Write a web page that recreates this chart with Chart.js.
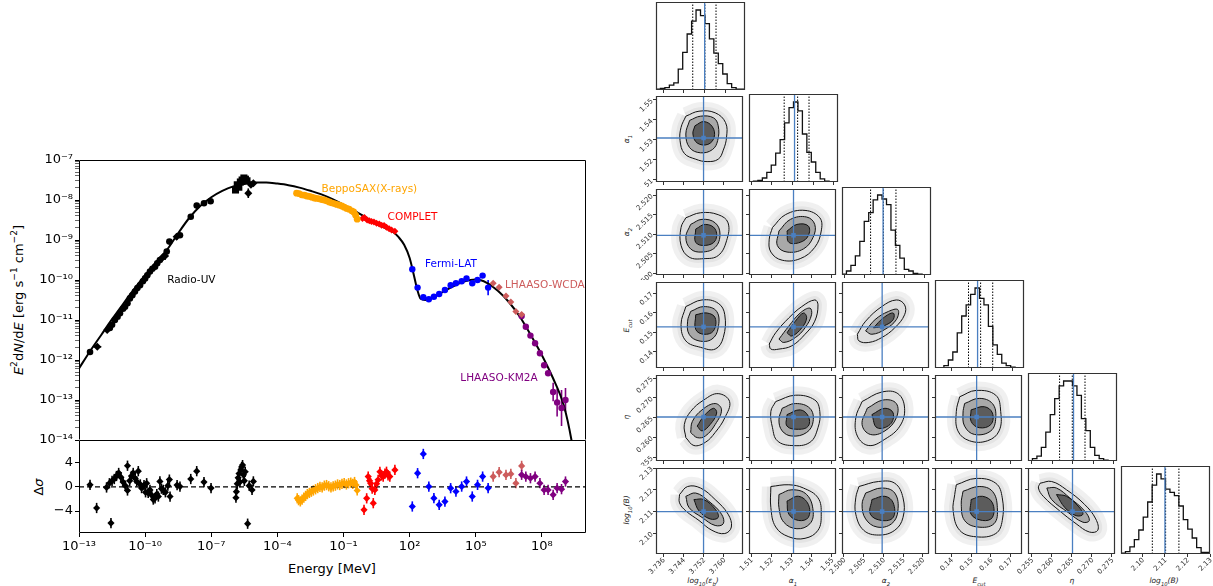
<!DOCTYPE html>
<html>
<head>
<meta charset="utf-8">
<title>SED fit and posterior</title>
<script src="https://cdn.jsdelivr.net/npm/chart.js@4.4.1/dist/chart.umd.min.js"></script>
<style>
  html, body { margin: 0; padding: 0; background: #fff; }
  body { position: relative; width: 1213px; height: 586px; overflow: hidden; font-family: "DejaVu Sans", sans-serif; }
  canvas { position: absolute; }
  .t { position: absolute; white-space: nowrap; color: #000; line-height: 1; }
  .rot { transform: translate(-50%, -50%) rotate(-90deg); }
  .ctr { transform: translate(-50%, -50%); }
  .cl { font-size: 7.5px; font-style: italic; color: #222; }
  sub, sup { font-size: 70%; line-height: 0; }
</style>
</head>
<body>
<div class="t rot" style="left:18px;top:300px;font-size:13px"><i>E</i><sup>2</sup>d<i>N</i>/d<i>E</i> [erg s<sup>−1</sup> cm<sup>−2</sup>]</div>
<div class="t rot" style="left:38px;top:487px;font-size:13px">Δ<i>σ</i></div>
<div class="t ctr" style="left:332px;top:568px;font-size:13px">Energy [MeV]</div>

<div class="t ctr cl" style="left:703px;top:581px">log<sub>10</sub>(ε<sub>b</sub>)</div>
<div class="t ctr cl" style="left:793px;top:581px">α<sub>1</sub></div>
<div class="t ctr cl" style="left:886px;top:581px">α<sub>2</sub></div>
<div class="t ctr cl" style="left:979px;top:581px">E<sub>cut</sub></div>
<div class="t ctr cl" style="left:1072px;top:581px">η</div>
<div class="t ctr cl" style="left:1164px;top:581px">log<sub>10</sub>(B)</div>
<div class="t rot cl" style="left:627px;top:139px">α<sub>1</sub></div>
<div class="t rot cl" style="left:627px;top:232px">α<sub>2</sub></div>
<div class="t rot cl" style="left:627px;top:326px">E<sub>cut</sub></div>
<div class="t rot cl" style="left:627px;top:417px">η</div>
<div class="t rot cl" style="left:627px;top:510px">log<sub>10</sub>(B)</div>

<script>
// ---- SED: log10 energy [MeV] and log10 E^2 dN/dE [erg s^-1 cm^-2] ----
const modelLogE = [-13.0, -12.5, -12.0, -11.5, -11.0, -10.5, -10.0, -9.5, -9.0, -8.5, -8.0, -7.5, -7.0, -6.5, -6.0, -5.5, -5.0, -4.5, -4.0, -3.5, -3.0, -2.5, -2.0, -1.5, -1.0, -0.5, 0.0, 0.5, 1.0, 1.25, 1.5, 1.75, 2.0, 2.2, 2.35, 2.5, 2.7, 3.0, 3.5, 4.0, 4.5, 5.0, 5.5, 6.0, 6.5, 7.0, 7.5, 8.0, 8.5, 9.0, 9.34, 9.45];
const modelLogF = [-12.21, -11.78, -11.38, -10.98, -10.6, -10.23, -9.88, -9.55, -9.24, -8.83, -8.45, -8.15, -7.93, -7.77, -7.66, -7.6, -7.56, -7.56, -7.59, -7.63, -7.69, -7.77, -7.86, -7.98, -8.12, -8.27, -8.43, -8.6, -8.73, -8.8, -8.93, -9.12, -9.45, -9.9, -10.25, -10.47, -10.5, -10.46, -10.3, -10.15, -10.03, -9.99, -10.07, -10.27, -10.55, -10.92, -11.38, -11.88, -12.45, -13.15, -14.0, -14.4];

const radioLogE = [-12.5, -12.17, -11.72, -11.6, -11.5, -11.37, -11.25, -11.14, -11.0, -10.91, -10.8, -10.69, -10.58, -10.46, -10.35, -10.23, -10.1, -10.0, -9.9, -9.78, -9.67, -9.55, -9.45, -9.33, -9.2, -9.1, -9.02, -8.9, -8.57, -8.42, -7.93, -7.66, -7.33, -7.03, -5.9, -5.82, -5.75, -5.68, -5.6, -5.52, -5.45, -5.38, -5.32, -5.2, -5.09];
const radioLogF = [-11.8, -11.67, -11.25, -11.2, -11.12, -11.0, -10.92, -10.83, -10.72, -10.67, -10.58, -10.46, -10.38, -10.29, -10.2, -10.13, -10.03, -9.96, -9.88, -9.79, -9.72, -9.67, -9.58, -9.5, -9.43, -9.4, -9.29, -9.04, -8.92, -8.88, -8.42, -8.14, -8.08, -8.03, -7.75, -7.62, -7.68, -7.55, -7.5, -7.45, -7.48, -7.52, -7.83, -7.62, -7.58];
const radioXErr = [0, 0.18, 0.12, 0, 0, 0, 0, 0, 0, 0, 0, 0, 0, 0, 0, 0, 0, 0, 0, 0, 0, 0, 0, 0, 0.12, 0.15, 0, 0, 0.12, 0, 0, 0, 0, 0, 0, 0, 0, 0, 0, 0, 0, 0, 0, 0, 0];
const radioYErr = [0, 0, 0, 0, 0, 0, 0, 0, 0, 0, 0, 0, 0, 0, 0, 0, 0, 0, 0, 0, 0, 0, 0, 0, 0.08, 0.1, 0, 0.06, 0.08, 0, 0, 0, 0, 0, 0.06, 0.05, 0.05, 0.05, 0.05, 0.05, 0.05, 0.05, 0.12, 0.05, 0];

const beppoLogE = [-3.13, -3.02, -2.9, -2.78, -2.67, -2.55, -2.44, -2.33, -2.22, -2.1, -1.99, -1.88, -1.77, -1.65, -1.54, -1.42, -1.31, -1.19, -1.08, -0.97, -0.86, -0.75, -0.63, -0.54, -0.45, -0.38];
const beppoLogF = [-7.83, -7.84, -7.87, -7.88, -7.9, -7.91, -7.93, -7.95, -7.96, -7.97, -7.99, -8.0, -8.02, -8.05, -8.07, -8.09, -8.11, -8.13, -8.15, -8.18, -8.21, -8.23, -8.27, -8.3, -8.38, -8.48];

const completLogE = [-0.14, -0.05, 0.07, 0.17, 0.27, 0.38, 0.5, 0.62, 0.73, 0.84, 0.95, 1.07, 1.18, 1.33];
const completLogF = [-8.46, -8.44, -8.5, -8.52, -8.54, -8.55, -8.58, -8.6, -8.63, -8.64, -8.68, -8.72, -8.75, -8.78];

const fermiLogE = [2.12, 2.36, 2.62, 2.87, 3.1, 3.34, 3.6, 3.86, 4.1, 4.36, 4.58, 4.84, 5.08, 5.31, 5.56];
const fermiLogF = [-9.73, -10.19, -10.43, -10.48, -10.42, -10.35, -10.25, -10.13, -10.08, -10.03, -9.96, -10.08, -10.0, -9.89, -10.19];
const fermiErr = [0.02, 0.02, 0.02, 0.02, 0.02, 0.02, 0.02, 0.02, 0.02, 0.03, 0.03, 0.04, 0.05, 0.06, 0.19];

const wcdaLogE = [5.79, 6.06, 6.37, 6.59, 6.82, 7.08];
const wcdaLogF = [-10.08, -10.18, -10.4, -10.55, -10.79, -10.86];

const km2aLogE = [7.08, 7.27, 7.48, 7.69, 7.91, 8.1, 8.28, 8.51, 8.69, 8.89, 9.07];
const km2aLogF = [-10.9, -11.17, -11.39, -11.58, -11.83, -12.13, -12.33, -12.8, -13.06, -13.2, -13.0];
const km2aErr = [0.03, 0.03, 0.03, 0.03, 0.04, 0.05, 0.06, 0.23, 0.35, 0.45, 0.3];

// residuals in units of sigma
const radioResE = [-12.5, -12.2, -11.55, -11.75, -11.62, -11.5, -11.4, -11.3, -11.2, -11.1, -11.0, -10.9, -10.8, -10.8, -10.7, -10.62, -10.54, -10.45, -10.38, -10.31, -10.22, -10.16, -10.05, -9.98, -9.93, -9.86, -9.78, -9.7, -9.63, -9.55, -9.47, -9.4, -9.33, -9.26, -9.18, -9.08, -8.97, -8.9, -8.87, -8.55, -8.42, -7.93, -7.66, -7.33, -7.01, -5.88, -5.86, -5.82, -5.78, -5.74, -5.7, -5.66, -5.62, -5.58, -5.54, -5.5, -5.46, -5.35, -5.28, -5.15, -5.09];
const radioRes = [0.33, -3.5, -6.0, -0.1, 0.6, 1.0, 1.3, 1.8, 2.3, 1.6, 0.8, 0.2, 3.5, -0.6, 1.0, 1.8, 2.3, 1.4, 0.9, 2.6, 0.4, -0.2, 0.3, -0.9, 0.6, -1.0, -0.5, -1.4, -2.1, -1.9, -1.2, -1.6, 0.9, -0.3, -0.5, -0.9, 0.2, 1.2, -1.6, 0.3, 0.05, 1.3, 2.6, 0.8, -0.2, -1.8, -0.8, 0.5, 1.5, 2.2, 0.8, 2.8, 3.3, 3.6, 2.0, 1.0, 2.5, -6.1, 0.2, -0.5, 0.9];
const beppoResE = [-3.1, -3.04, -2.96, -2.88, -2.8, -2.72, -2.64, -2.55, -2.46, -2.37, -2.27, -2.17, -2.07, -1.97, -1.87, -1.77, -1.67, -1.57, -1.47, -1.37, -1.27, -1.17, -1.07, -0.97, -0.87, -0.77, -0.67, -0.58, -0.5, -0.43, -0.38];
const beppoRes = [-1.9, -2.2, -2.4, -2.1, -1.8, -1.5, -1.2, -1.0, -0.8, -0.6, -0.4, -0.2, 0.0, -0.1, 0.2, 0.3, 0.1, -0.1, 0.1, 0.2, 0.4, 0.3, 0.5, 0.6, 0.4, 0.6, 0.7, 0.5, 0.8, 0.3, -0.6];
const completResE = [-0.07, 0.05, 0.12, 0.18, 0.23, 0.3, 0.35, 0.42, 0.5, 0.57, 0.65, 0.72, 0.8, 0.88, 0.95, 1.02, 1.1, 1.33];
const completRes = [-3.8, -1.9, 1.7, 1.0, 0.6, -0.3, -2.7, -0.5, 0.5, 1.16, 2.5, 1.9, 1.7, 2.2, 2.5, 1.9, 1.7, 2.8];
const fermiRes = [-3.25, 2.26, 5.45, 0.05, -1.87, -2.98, -2.43, -0.22, -0.77, 0.05, 0.88, -1.6, 0.33, 1.7, -0.2];
const wcdaRes = [1.7, 2.43, 1.98, 2.15, 0.6, 3.47];
const km2aRes = [2.0, 1.7, 1.43, 1.7, 0.6, -0.5, -0.5, -1.32, -0.22, -0.38, 0.88];

// ---- posterior: log10(eps_b), alpha1, alpha2, E_cut, eta, log10(B) ----
const ranges = [[3.7332, 3.7676], [1.509, 1.552], [2.4995, 2.5216], [0.1317, 0.1758], [0.2541, 0.2758], [2.0905, 2.1300]];
const truths = [3.752, 1.531, 2.5097, 0.1528, 0.2652, 2.1100];
const tickVals = [[3.736, 3.744, 3.752, 3.760], [1.51, 1.52, 1.53, 1.54, 1.55], [2.500, 2.505, 2.510, 2.515, 2.520], [0.14, 0.15, 0.16, 0.17], [0.255, 0.260, 0.265, 0.270, 0.275], [2.10, 2.11, 2.12, 2.13]];
const tickDigits = [3, 2, 3, 2, 3, 2];
const quantiles = [[3.7474, 3.7521, 3.7564], [1.526, 1.5325, 1.538], [2.5066, 2.5098, 2.5129], [0.1483, 0.1543, 0.1603], [0.2618, 0.2649, 0.2680], [2.1044, 2.1103, 2.1162]];

// 20-bin marginal histograms, relative counts
const hist0 = [0, 0.01, 0.02, 0.03, 0.06, 0.09, 0.26, 0.47, 0.7, 0.86, 1.0, 0.93, 0.83, 0.64, 0.46, 0.33, 0.2, 0.08, 0.03, 0.01];
const hist1 = [0, 0.005, 0.01, 0.02, 0.05, 0.12, 0.21, 0.36, 0.53, 0.74, 0.93, 1.0, 0.89, 0.6, 0.37, 0.25, 0.12, 0.04, 0.01, 0];
const hist2 = [0, 0.01, 0.05, 0.12, 0.24, 0.42, 0.67, 0.78, 0.94, 1.0, 0.95, 0.88, 0.56, 0.37, 0.21, 0.07, 0.05, 0.02, 0.01, 0];
const hist3 = [0, 0, 0.005, 0.03, 0.1, 0.2, 0.44, 0.65, 0.79, 0.92, 1.0, 0.87, 0.79, 0.52, 0.29, 0.17, 0.06, 0.03, 0.01, 0];
const hist4 = [0, 0.005, 0.03, 0.06, 0.17, 0.36, 0.58, 0.78, 0.94, 1.0, 1.0, 0.94, 0.82, 0.53, 0.38, 0.17, 0.07, 0.03, 0.01, 0];
const hist5 = [0, 0.01, 0.03, 0.09, 0.18, 0.3, 0.46, 0.65, 0.86, 1.0, 0.94, 0.81, 0.77, 0.73, 0.6, 0.43, 0.31, 0.2, 0.08, 0.02];
const hists = [hist0, hist1, hist2, hist3, hist4, hist5];

// contour outlines (outer, middle, inner), x,y pairs
const cont10 = [
  [3.7450, 1.5419, 3.7502, 1.5444, 3.7566, 1.5436, 3.7607, 1.5387, 3.7611, 1.5314, 3.7598, 1.5249, 3.7578, 1.5204, 3.7534, 1.5192, 3.7489, 1.5204, 3.7444, 1.5233, 3.7427, 1.5298, 3.7431, 1.5363],
  [3.7465, 1.5398, 3.7508, 1.5419, 3.7559, 1.5411, 3.7578, 1.5371, 3.7576, 1.5298, 3.7555, 1.5252, 3.7508, 1.5236, 3.7465, 1.5262, 3.7450, 1.5330],
  [3.7486, 1.5371, 3.7521, 1.5392, 3.7555, 1.5366, 3.7562, 1.5314, 3.7537, 1.5278, 3.7495, 1.5285, 3.7478, 1.5330]];
const cont20 = [
  [3.7450, 2.5142, 3.7508, 2.5155, 3.7578, 2.5150, 3.7617, 2.5129, 3.7611, 2.5083, 3.7578, 2.5045, 3.7521, 2.5037, 3.7463, 2.5041, 3.7431, 2.5071, 3.7431, 2.5117],
  [3.7469, 2.5125, 3.7514, 2.5138, 3.7566, 2.5129, 3.7585, 2.5100, 3.7566, 2.5066, 3.7514, 2.5054, 3.7469, 2.5062, 3.7450, 2.5092],
  [3.7489, 2.5113, 3.7527, 2.5125, 3.7566, 2.5113, 3.7566, 2.5083, 3.7527, 2.5071, 3.7489, 2.5079]];
const cont21 = [
  [1.5206, 2.5117, 1.5270, 2.5150, 1.5367, 2.5161, 1.5440, 2.5142, 1.5447, 2.5108, 1.5415, 2.5066, 1.5343, 2.5037, 1.5254, 2.5033, 1.5198, 2.5054, 1.5190, 2.5087],
  [1.5238, 2.5108, 1.5295, 2.5138, 1.5375, 2.5144, 1.5415, 2.5125, 1.5407, 2.5092, 1.5359, 2.5062, 1.5278, 2.5054, 1.5230, 2.5071],
  [1.5278, 2.5108, 1.5327, 2.5125, 1.5383, 2.5121, 1.5383, 2.5096, 1.5343, 2.5079, 1.5287, 2.5079]];
const cont30 = [
  [3.7450, 0.1632, 3.7514, 0.1666, 3.7578, 0.1649, 3.7604, 0.1590, 3.7598, 0.1473, 3.7566, 0.1414, 3.7508, 0.1423, 3.7450, 0.1456, 3.7431, 0.1540],
  [3.7469, 0.1607, 3.7521, 0.1632, 3.7572, 0.1607, 3.7578, 0.1523, 3.7553, 0.1465, 3.7502, 0.1456, 3.7463, 0.1490, 3.7457, 0.1557],
  [3.7489, 0.1590, 3.7534, 0.1599, 3.7566, 0.1574, 3.7559, 0.1507, 3.7521, 0.1490, 3.7489, 0.1515]];
const cont31 = [
  [1.5190, 0.1440, 1.5222, 0.1498, 1.5287, 0.1574, 1.5351, 0.1632, 1.5415, 0.1666, 1.5431, 0.1641, 1.5415, 0.1557, 1.5367, 0.1490, 1.5302, 0.1431, 1.5238, 0.1414, 1.5198, 0.1414],
  [1.5238, 0.1465, 1.5287, 0.1532, 1.5343, 0.1599, 1.5391, 0.1624, 1.5399, 0.1590, 1.5367, 0.1523, 1.5319, 0.1473, 1.5262, 0.1448],
  [1.5278, 0.1498, 1.5319, 0.1557, 1.5359, 0.1599, 1.5375, 0.1574, 1.5351, 0.1523, 1.5302, 0.1481]];
const cont32 = [
  [2.5034, 0.1490, 2.5055, 0.1557, 2.5096, 0.1632, 2.5133, 0.1666, 2.5154, 0.1641, 2.5154, 0.1590, 2.5129, 0.1523, 2.5096, 0.1473, 2.5063, 0.1448, 2.5038, 0.1456],
  [2.5055, 0.1507, 2.5079, 0.1565, 2.5113, 0.1607, 2.5137, 0.1616, 2.5133, 0.1565, 2.5104, 0.1515, 2.5071, 0.1490],
  [2.5075, 0.1523, 2.5100, 0.1574, 2.5125, 0.1599, 2.5125, 0.1565, 2.5100, 0.1532]];
const cont40 = [
  [3.7450, 0.2600, 3.7444, 0.2633, 3.7469, 0.2666, 3.7521, 0.2695, 3.7578, 0.2711, 3.7623, 0.2691, 3.7604, 0.2650, 3.7566, 0.2613, 3.7527, 0.2588, 3.7482, 0.2580],
  [3.7469, 0.2613, 3.7476, 0.2641, 3.7514, 0.2670, 3.7566, 0.2686, 3.7591, 0.2670, 3.7566, 0.2633, 3.7527, 0.2604, 3.7495, 0.2600],
  [3.7495, 0.2629, 3.7521, 0.2654, 3.7559, 0.2674, 3.7572, 0.2662, 3.7546, 0.2633, 3.7514, 0.2617]];
const cont41 = [
  [1.5222, 0.2691, 1.5319, 0.2707, 1.5415, 0.2695, 1.5440, 0.2666, 1.5431, 0.2625, 1.5391, 0.2588, 1.5302, 0.2580, 1.5230, 0.2592, 1.5206, 0.2625, 1.5198, 0.2666],
  [1.5254, 0.2674, 1.5319, 0.2686, 1.5391, 0.2674, 1.5407, 0.2641, 1.5375, 0.2613, 1.5302, 0.2604, 1.5254, 0.2617, 1.5238, 0.2645],
  [1.5278, 0.2658, 1.5343, 0.2670, 1.5383, 0.2654, 1.5383, 0.2629, 1.5335, 0.2621, 1.5278, 0.2629]];
const cont42 = [
  [2.5046, 0.2691, 2.5096, 0.2715, 2.5137, 0.2711, 2.5154, 0.2674, 2.5142, 0.2629, 2.5104, 0.2596, 2.5063, 0.2580, 2.5034, 0.2604, 2.5030, 0.2650],
  [2.5059, 0.2674, 2.5100, 0.2695, 2.5133, 0.2686, 2.5133, 0.2650, 2.5104, 0.2617, 2.5067, 0.2608, 2.5046, 0.2633],
  [2.5071, 0.2658, 2.5104, 0.2674, 2.5125, 0.2662, 2.5117, 0.2633, 2.5084, 0.2625]];
const cont43 = [
  [0.1442, 0.2703, 0.1525, 0.2719, 0.1625, 0.2707, 0.1650, 0.2666, 0.1642, 0.2617, 0.1583, 0.2592, 0.1492, 0.2592, 0.1433, 0.2617, 0.1425, 0.2666],
  [0.1467, 0.2686, 0.1541, 0.2699, 0.1608, 0.2686, 0.1625, 0.2650, 0.1600, 0.2617, 0.1517, 0.2608, 0.1467, 0.2629, 0.1459, 0.2662],
  [0.1500, 0.2670, 0.1567, 0.2678, 0.1608, 0.2662, 0.1600, 0.2633, 0.1541, 0.2625, 0.1500, 0.2641]];
const cont50 = [
  [3.7425, 2.1178, 3.7457, 2.1215, 3.7508, 2.1208, 3.7566, 2.1155, 3.7617, 2.1088, 3.7630, 2.1029, 3.7604, 2.0999, 3.7553, 2.1014, 3.7502, 2.1059, 3.7450, 2.1103, 3.7425, 2.1140],
  [3.7450, 2.1170, 3.7489, 2.1185, 3.7540, 2.1148, 3.7591, 2.1088, 3.7598, 2.1044, 3.7566, 2.1036, 3.7514, 2.1073, 3.7463, 2.1118],
  [3.7482, 2.1155, 3.7521, 2.1155, 3.7566, 2.1111, 3.7578, 2.1073, 3.7546, 2.1066, 3.7502, 2.1103]];
const cont51 = [
  [1.5198, 2.1215, 1.5287, 2.1223, 1.5359, 2.1208, 1.5431, 2.1163, 1.5447, 2.1088, 1.5431, 2.1014, 1.5367, 2.0977, 1.5287, 2.0984, 1.5222, 2.1029, 1.5198, 2.1118],
  [1.5238, 2.1178, 1.5302, 2.1200, 1.5375, 2.1178, 1.5407, 2.1103, 1.5391, 2.1044, 1.5327, 2.1021, 1.5262, 2.1051, 1.5238, 2.1118],
  [1.5278, 2.1148, 1.5335, 2.1170, 1.5383, 2.1133, 1.5383, 2.1073, 1.5335, 2.1059, 1.5287, 2.1088]];
const cont52 = [
  [2.5038, 2.1215, 2.5088, 2.1238, 2.5129, 2.1230, 2.5150, 2.1163, 2.5150, 2.1073, 2.5129, 2.1014, 2.5088, 2.0992, 2.5050, 2.1014, 2.5030, 2.1088, 2.5030, 2.1163],
  [2.5055, 2.1185, 2.5096, 2.1208, 2.5129, 2.1185, 2.5137, 2.1103, 2.5121, 2.1044, 2.5084, 2.1029, 2.5055, 2.1066, 2.5046, 2.1133],
  [2.5071, 2.1155, 2.5104, 2.1170, 2.5125, 2.1140, 2.5125, 2.1073, 2.5096, 2.1059, 2.5067, 2.1088]];
const cont53 = [
  [0.1425, 2.1223, 0.1525, 2.1252, 0.1625, 2.1230, 0.1658, 2.1163, 0.1658, 2.1059, 0.1625, 2.0999, 0.1525, 2.0984, 0.1442, 2.1014, 0.1409, 2.1103, 0.1417, 2.1178],
  [0.1459, 2.1193, 0.1541, 2.1215, 0.1608, 2.1193, 0.1633, 2.1118, 0.1616, 2.1044, 0.1533, 2.1029, 0.1467, 2.1059, 0.1450, 2.1133],
  [0.1500, 2.1155, 0.1558, 2.1170, 0.1608, 2.1140, 0.1608, 2.1073, 0.1558, 2.1059, 0.1500, 2.1088]];
const cont54 = [
  [0.2571, 2.1230, 0.2600, 2.1238, 0.2637, 2.1200, 0.2682, 2.1133, 0.2710, 2.1066, 0.2715, 2.1014, 0.2694, 2.1006, 0.2661, 2.1044, 0.2620, 2.1103, 0.2579, 2.1170, 0.2567, 2.1208],
  [0.2588, 2.1208, 0.2612, 2.1208, 0.2645, 2.1163, 0.2682, 2.1103, 0.2694, 2.1059, 0.2678, 2.1051, 0.2641, 2.1096, 0.2600, 2.1155],
  [0.2612, 2.1178, 0.2637, 2.1170, 0.2666, 2.1125, 0.2678, 2.1088, 0.2661, 2.1081, 0.2633, 2.1118]];
const contours = {
  '1,0': cont10, '2,0': cont20, '2,1': cont21, '3,0': cont30, '3,1': cont31, '3,2': cont32,
  '4,0': cont40, '4,1': cont41, '4,2': cont42, '4,3': cont43,
  '5,0': cont50, '5,1': cont51, '5,2': cont52, '5,3': cont53, '5,4': cont54
};

// ---------------------------------------------------------------------------
Chart.defaults.font.family = '"DejaVu Sans", sans-serif';
Chart.defaults.color = '#000';
Chart.defaults.animation = false;

const sup = s => String(s).replace(/[-0-9]/g, ch => '⁻⁰¹²³⁴⁵⁶⁷⁸⁹'['-0123456789'.indexOf(ch)]);
const logPts = (xs, ys) => xs.map((v, i) => ({ x: 10 ** v, y: 10 ** ys[i] }));
const resPts = (xs, ys) => xs.map((v, i) => ({ x: 10 ** v, y: ys[i] }));

function makeCanvas(left, top, w, h) {
  const c = document.createElement('canvas');
  c.width = w; c.height = h;
  c.style.left = left + 'px'; c.style.top = top + 'px';
  c.style.width = w + 'px'; c.style.height = h + 'px';
  document.body.appendChild(c);
  return c;
}

function decadeTicks(lo, hi, subs, isMajor) {
  const t = [];
  for (let d = lo; d <= hi; d++) {
    t.push({ value: 10 ** d, major: isMajor(d) });
    if (subs && d < hi) for (let m = 2; m <= 9; m++) t.push({ value: m * 10 ** d, major: false });
  }
  return t;
}

// box around the plotting area (bottom edge optional, the residual panel supplies it)
const frame = {
  id: 'frame',
  afterDraw(chart, args, opts) {
    const a = chart.chartArea, ctx = chart.ctx;
    const l = Math.round(a.left) + 0.5, t = Math.round(a.top) + 0.5;
    const r = Math.round(a.right) - 0.5, b = Math.round(a.bottom) - 0.5;
    ctx.save();
    ctx.strokeStyle = opts.color || '#000';
    ctx.lineWidth = opts.width || 1;
    ctx.beginPath();
    ctx.moveTo(l, b); ctx.lineTo(l, t); ctx.lineTo(r, t); ctx.lineTo(r, b);
    if (!opts.openBottom) ctx.closePath();
    ctx.stroke();
    ctx.restore();
  }
};

// error bars from errX / errY on a dataset (dex on log axes)
const errorBars = {
  id: 'errorBars',
  beforeDatasetsDraw(chart) {
    const { ctx, chartArea: a, scales: { x, y } } = chart;
    ctx.save();
    ctx.beginPath(); ctx.rect(a.left, a.top, a.right - a.left, a.bottom - a.top); ctx.clip();
    chart.data.datasets.forEach(ds => {
      if (ds.errY == null && ds.errX == null) return;
      ctx.strokeStyle = ds.backgroundColor;
      ctx.lineWidth = 1.6;
      ds.data.forEach((p, k) => {
        const px = x.getPixelForValue(p.x), py = y.getPixelForValue(p.y);
        const ey = Array.isArray(ds.errY) ? ds.errY[k] : ds.errY;
        const ex = Array.isArray(ds.errX) ? ds.errX[k] : ds.errX;
        ctx.beginPath();
        if (ey) {
          const lo = y.type === 'logarithmic' ? p.y / 10 ** ey : p.y - ey;
          const hi = y.type === 'logarithmic' ? p.y * 10 ** ey : p.y + ey;
          ctx.moveTo(px, y.getPixelForValue(lo)); ctx.lineTo(px, y.getPixelForValue(hi));
        }
        if (ex) {
          ctx.moveTo(x.getPixelForValue(p.x / 10 ** ex), py);
          ctx.lineTo(x.getPixelForValue(p.x * 10 ** ex), py);
        }
        ctx.stroke();
      });
    });
    ctx.restore();
  }
};

// instrument names placed in data coordinates
const seriesNames = {
  id: 'seriesNames',
  afterDatasetsDraw(chart, args, opts) {
    if (!opts.items) return;
    const { ctx, scales: { x, y } } = chart;
    ctx.save();
    ctx.font = '10.5px "DejaVu Sans"';
    ctx.textAlign = 'left'; ctx.textBaseline = 'middle';
    opts.items.forEach(it => {
      ctx.fillStyle = it.color;
      ctx.fillText(it.text, x.getPixelForValue(it.x), y.getPixelForValue(it.y));
    });
    ctx.restore();
  }
};

// ---- SED panel ----
const pointSet = (label, color, data, extra) => Object.assign({
  label, data, backgroundColor: color, borderColor: color, pointRadius: 3.2, pointBorderWidth: 0, showLine: false, order: 1
}, extra || {});

const radioStyle = radioLogE.map((_, i) => i >= 34 && i <= 41 ? 'rect' : ([1, 2, 24, 25, 28, 42, 43, 44].includes(i) ? 'rectRot' : 'circle'));

// y tick labels need ~10px above and below the plot area, hence the paddings
new Chart(makeCanvas(0, 150, 592, 300), {
  type: 'scatter',
  data: {
    datasets: [
      { label: 'model', data: logPts(modelLogE, modelLogF), showLine: true, borderColor: '#000', borderWidth: 2, pointRadius: 0, cubicInterpolationMode: 'monotone', order: 5 },
      pointSet('Radio-UV', '#000', logPts(radioLogE, radioLogF), {
        errX: radioXErr, errY: radioYErr, pointStyle: radioStyle,
        pointRadius: radioStyle.map(s => s === 'rect' ? 5 : (s === 'rectRot' ? 4 : 3.3))
      }),
      pointSet('BeppoSAX', 'orange', logPts(beppoLogE, beppoLogF), { errY: 0.05, pointRadius: 3.4 }),
      pointSet('COMPLET', 'red', logPts(completLogE, completLogF), { errY: 0.03, pointRadius: 3.5, pointStyle: 'rectRot' }),
      pointSet('Fermi-LAT', 'blue', logPts(fermiLogE, fermiLogF), { errY: fermiErr }),
      pointSet('LHAASO-WCDA', 'indianred', logPts(wcdaLogE, wcdaLogF), { errY: 0.05, pointStyle: 'rectRot', pointRadius: 3.5 }),
      pointSet('LHAASO-KM2A', 'purple', logPts(km2aLogE, km2aLogF), { errY: km2aErr })
    ]
  },
  options: {
    responsive: false, devicePixelRatio: 1,
    layout: { padding: { top: 10, right: 6, bottom: 10, left: 0 } },
    plugins: {
      legend: { display: false }, tooltip: { enabled: false },
      frame: { color: '#000', width: 1, openBottom: true },
      seriesNames: { items: [
        { text: 'Radio-UV', x: 1e-9, y: 1e-10, color: '#000' },
        { text: 'BeppoSAX(X-rays)', x: 1e-2, y: 1.9e-8, color: 'orange' },
        { text: 'COMPLET', x: 10, y: 3.8e-9, color: 'red' },
        { text: 'Fermi-LAT', x: 5e2, y: 2.5e-10, color: 'blue' },
        { text: 'LHAASO-WCDA', x: 2.1e6, y: 7.4e-11, color: 'indianred' },
        { text: 'LHAASO-KM2A', x: 2e4, y: 3.5e-13, color: 'purple' }
      ] }
    },
    scales: {
      x: { type: 'logarithmic', min: 1e-13, max: 1e10, display: false },
      y: {
        type: 'logarithmic', min: 1e-14, max: 1e-7,
        afterFit: s => { s.width = 79; },
        afterBuildTicks: s => { s.ticks = decadeTicks(-14, -7, true, () => true); },
        ticks: {
          autoSkip: false, padding: 2, font: { size: 13 }, color: '#000',
          callback: (v, i, t) => t[i].major ? '10' + sup(Math.round(Math.log10(v))) : ''
        },
        grid: { drawOnChartArea: false, tickLength: 4, tickColor: '#000', tickWidth: c => (c.tick && c.tick.major) ? 1 : 0.6 },
        border: { display: false }
      }
    }
  },
  plugins: [frame, errorBars, seriesNames]
});

// ---- residual panel ----
const resSet = (label, color, data) => ({
  label, data, backgroundColor: color, borderColor: color, pointStyle: 'rectRot', pointRadius: 3.6, pointBorderWidth: 0, errY: 0.85, order: 1
});

new Chart(makeCanvas(0, 430, 592, 156), {
  type: 'scatter',
  data: {
    datasets: [
      { label: 'zero', data: [{ x: 1e-13, y: 0 }, { x: 1e10, y: 0 }], showLine: true, borderColor: '#000', borderWidth: 1.2, borderDash: [5, 3], pointRadius: 0, order: 5 },
      resSet('Radio-UV', '#000', resPts(radioResE, radioRes)),
      resSet('BeppoSAX', 'orange', resPts(beppoResE, beppoRes)),
      resSet('COMPLET', 'red', resPts(completResE, completRes)),
      resSet('Fermi-LAT', 'blue', resPts(fermiLogE, fermiRes)),
      resSet('LHAASO-WCDA', 'indianred', resPts(wcdaLogE, wcdaRes)),
      resSet('LHAASO-KM2A', 'purple', resPts(km2aLogE, km2aRes))
    ]
  },
  options: {
    responsive: false, devicePixelRatio: 1,
    layout: { padding: { top: 10, right: 6, bottom: 2, left: 0 } },
    plugins: { legend: { display: false }, tooltip: { enabled: false }, frame: { color: '#000', width: 1 } },
    scales: {
      x: {
        type: 'logarithmic', min: 1e-13, max: 1e10,
        afterFit: s => { s.height = 51; },
        afterBuildTicks: s => { s.ticks = [-13, -10, -7, -4, -1, 2, 5, 8].map(d => ({ value: 10 ** d, major: true })); },
        ticks: {
          autoSkip: false, maxRotation: 0, minRotation: 0, padding: 2, font: { size: 13 }, color: '#000',
          callback: v => '10' + sup(Math.round(Math.log10(v)))
        },
        grid: { drawOnChartArea: false, tickLength: 4, tickColor: '#000' },
        border: { display: false }
      },
      y: {
        min: -7.64, max: 7.76,
        afterFit: s => { s.width = 79; },
        afterBuildTicks: s => { s.ticks = [-4, 0, 4].map(v => ({ value: v })); },
        ticks: { padding: 2, font: { size: 13 }, color: '#000', callback: v => v < 0 ? '−' + (-v) : String(v) },
        grid: { drawOnChartArea: false, tickLength: 4, tickColor: '#000' },
        border: { display: false }
      }
    }
  },
  plugins: [frame, errorBars]
});

// ---- corner plot ----
const colLeft = [656, 749, 842, 935, 1028, 1121];
const rowTop = [2, 94, 187, 280, 373, 466];
const PW = 89, PH = 88;
const truthColor = '#4a7fc1';

const poly = flat => {
  const p = [];
  for (let i = 0; i < flat.length; i += 2) p.push({ x: flat[i], y: flat[i + 1] });
  p.push(p[0]);
  return p;
};

// rotated tick labels on the outer edges of the grid
const cornerTicks = {
  id: 'cornerTicks',
  afterDraw(chart, args, o) {
    const ctx = chart.ctx, a = chart.chartArea;
    ctx.save();
    ctx.font = '7px "DejaVu Sans"';
    ctx.fillStyle = '#333';
    ctx.textAlign = 'right'; ctx.textBaseline = 'middle';
    if (o.xDigits != null) chart.scales.x.ticks.forEach(t => {
      ctx.save();
      ctx.translate(chart.scales.x.getPixelForValue(t.value) + 1, a.bottom + 5);
      ctx.rotate(-Math.PI / 4);
      ctx.fillText(t.value.toFixed(o.xDigits), 0, 0);
      ctx.restore();
    });
    if (o.yDigits != null) chart.scales.y.ticks.forEach(t => {
      ctx.save();
      ctx.translate(a.left - 4, chart.scales.y.getPixelForValue(t.value));
      ctx.rotate(-Math.PI / 4);
      ctx.fillText(t.value.toFixed(o.yDigits), 0, 0);
      ctx.restore();
    });
    ctx.restore();
  }
};

function cornerPanel(r, c) {
  const hist = r === c;
  const ml = (c === 0 && r > 0) ? 34 : (r === 5 ? 20 : 5);
  const mb = r === 5 ? 34 : 5, mt = 2, mr = 2;
  const cv = makeCanvas(colLeft[c] - ml, rowTop[r] - mt, ml + PW + mr, mt + PH + mb);
  const xr = ranges[c];
  const datasets = [];
  let yScale;

  const tickGrid = { drawOnChartArea: false, tickLength: 3, tickColor: '#333', tickWidth: 1 };
  if (hist) {
    const h = hists[c], n = h.length, w = (xr[1] - xr[0]) / n;
    const step = h.map((v, i) => ({ x: xr[0] + i * w, y: v }));
    step.push({ x: xr[1], y: h[n - 1] });
    datasets.push({ data: step, showLine: true, stepped: 'after', borderColor: '#111', borderWidth: 1.3, pointRadius: 0, order: 3 });
    quantiles[c].forEach(q => datasets.push({ data: [{ x: q, y: 0 }, { x: q, y: 1.1 }], showLine: true, borderColor: '#000', borderWidth: 1, borderDash: [1.5, 1.5], pointRadius: 0, order: 4 }));
    datasets.push({ data: [{ x: truths[c], y: 0 }, { x: truths[c], y: 1.1 }], showLine: true, borderColor: truthColor, borderWidth: 1.3, pointRadius: 0, order: 2 });
    yScale = { display: false, min: 0, max: 1.1 };
  } else {
    const yr = ranges[r];
    const cs = contours[r + ',' + c];
    // faint cloud of samples around the outer contour
    datasets.push({ data: poly(cs[0]), showLine: true, fill: false, borderColor: 'rgba(0,0,0,0.06)', borderWidth: 18, pointRadius: 0, tension: 0.4, order: 12 });
    datasets.push({ data: poly(cs[0]), showLine: true, fill: false, borderColor: 'rgba(0,0,0,0.05)', borderWidth: 8, pointRadius: 0, tension: 0.4, order: 11 });
    const fills = ['#dedede', '#a9a9a9', '#5c5c5c'];
    cs.forEach((flat, k) => datasets.push({
      data: poly(flat), showLine: true, fill: 'shape', backgroundColor: fills[k],
      borderColor: '#111', borderWidth: 1, pointRadius: 0, tension: 0.4, order: 10 - k
    }));
    datasets.push({ data: [{ x: truths[c], y: yr[0] }, { x: truths[c], y: yr[1] }], showLine: true, borderColor: truthColor, borderWidth: 1.3, pointRadius: 0, order: 2 });
    datasets.push({ data: [{ x: xr[0], y: truths[r] }, { x: xr[1], y: truths[r] }], showLine: true, borderColor: truthColor, borderWidth: 1.3, pointRadius: 0, order: 2 });
    datasets.push({ data: [{ x: truths[c], y: truths[r] }], pointStyle: 'rect', pointRadius: 3.2, backgroundColor: truthColor, pointBorderWidth: 0, order: 1 });
    yScale = {
      type: 'linear', min: yr[0], max: yr[1],
      afterFit: s => { s.width = ml; },
      afterBuildTicks: s => { s.ticks = tickVals[r].map(v => ({ value: v })); },
      ticks: { display: false },
      grid: tickGrid, border: { display: false }
    };
  }

  new Chart(cv, {
    type: 'scatter',
    data: { datasets },
    options: {
      responsive: false, devicePixelRatio: 1,
      layout: { padding: { top: mt, right: mr, bottom: 0, left: hist ? ml : 0 } },
      plugins: {
        legend: { display: false }, tooltip: { enabled: false },
        frame: { color: '#333', width: 1.2 },
        cornerTicks: { xDigits: r === 5 ? tickDigits[c] : null, yDigits: (c === 0 && r > 0) ? tickDigits[r] : null }
      },
      scales: {
        x: {
          type: 'linear', min: xr[0], max: xr[1],
          afterFit: s => { s.height = mb; },
          afterBuildTicks: s => { s.ticks = tickVals[c].map(v => ({ value: v })); },
          ticks: { display: false },
          grid: tickGrid, border: { display: false }
        },
        y: yScale
      }
    },
    plugins: [frame, cornerTicks]
  });
}

for (let r = 0; r < 6; r++) for (let c = 0; c <= r; c++) cornerPanel(r, c);
</script>
</body>
</html>
